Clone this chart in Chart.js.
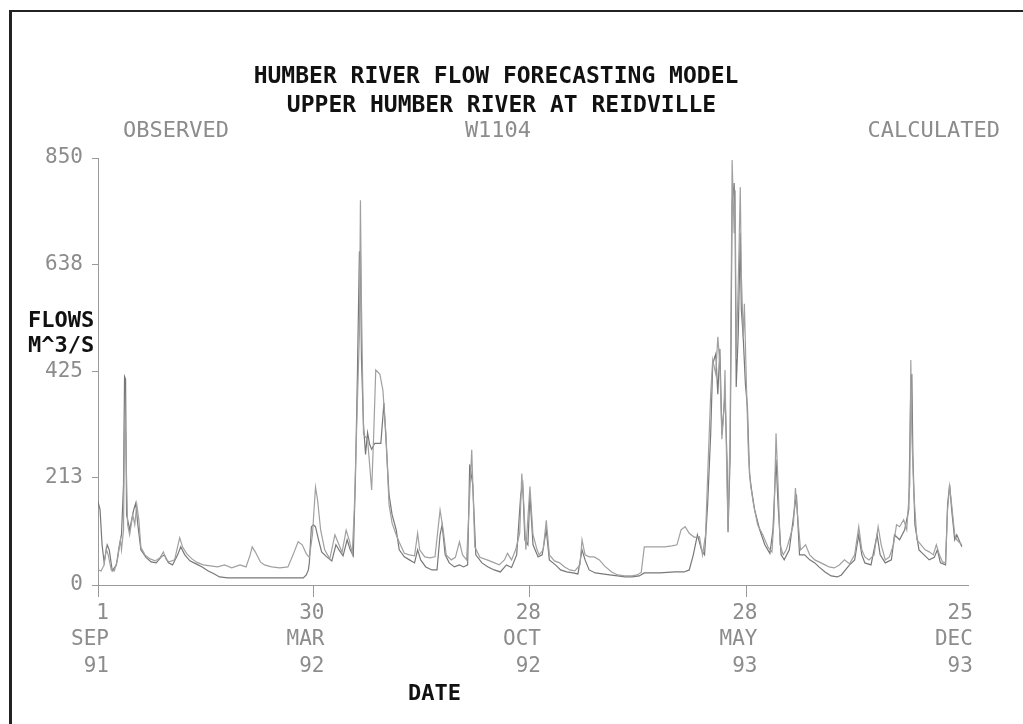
<!DOCTYPE html>
<html>
<head>
<meta charset="utf-8">
<title>Humber River Flow Forecasting Model</title>
<script src="https://cdn.jsdelivr.net/npm/chart.js@4.4.1/dist/chart.umd.min.js"></script>
<style>
    html, body { margin: 0; padding: 0; background: #fff; }
    #wrap { position: relative; width: 1023px; height: 724px; overflow: hidden; }
    #frame { position: absolute; left: 9px; top: 10px; right: -10px; bottom: -10px;
             border-left: 3px solid #222; border-top: 2px solid #222; }
    canvas { position: absolute; left: 0; top: 0; }
    .t { position: absolute; font-family: "DejaVu Sans Mono", monospace; white-space: pre; line-height: 22px; }
    .bold { font-weight: bold; font-size: 22px; color: #111; }
    .title { font-size: 23px; }
    .grey { font-size: 22px; color: #8c8c8c; }
</style>
</head>
<body>
<div id="wrap">
    <div id="frame"></div>
    <canvas id="flowChart" width="1023" height="724"></canvas>
    <div class="t bold title" style="left:0; width:992px; text-align:center; top:64px;">HUMBER RIVER FLOW FORECASTING MODEL</div>
    <div class="t bold title" style="left:0; width:1003px; text-align:center; top:93px;">UPPER HUMBER RIVER AT REIDVILLE</div>
    <div class="t grey" style="left:123px; top:119px;">OBSERVED</div>
    <div class="t grey" style="left:0; width:996px; text-align:center; top:119px;">W1104</div>
    <div class="t grey" style="right:23px; top:119px;">CALCULATED</div>
    <div class="t bold" style="left:28px; top:309px;">FLOWS</div>
    <div class="t bold" style="left:28px; top:334px;">M^3/S</div>
    <div class="t bold" style="left:408px; top:682px;">DATE</div>
</div>
<script>
'use strict';

// x = days since 1 SEP 91
const xTickDays = [0, 211, 423, 635, 846];
const xTickLabels = [
    ['1', 'SEP', '91'],
    ['30', 'MAR', '92'],
    ['28', 'OCT', '92'],
    ['28', 'MAY', '93'],
    ['25', 'DEC', '93']
];
const yTickValues = [0, 213, 425, 638, 850];

// observed flows (m^3/s)
const obsDays = [
    0, 3, 6, 8, 10, 13, 16, 19, 22, 23,
    25, 26, 27, 29, 31, 34, 36, 38, 40, 42,
    46, 51, 56, 61, 64, 67, 70, 75, 80, 83,
    87, 92, 97, 103, 110, 117, 124, 131, 139, 145,
    149, 151, 154, 159, 163, 170, 178, 186, 191, 196,
    200, 204, 207, 210, 213, 215, 218, 222, 227, 232,
    235, 239, 243, 246, 249, 251, 254, 256, 257, 258,
    260, 262, 264, 266, 268, 270, 272, 276, 279, 282,
    285, 288, 292, 295, 300, 305, 310, 313, 315, 320,
    325, 330, 335, 338, 341, 346, 350, 354, 357, 361,
    364, 366, 369, 374, 381, 386, 393, 398, 401, 405,
    409, 413, 415, 417, 419, 423, 426, 430, 432, 436,
    439, 442, 447, 452, 457, 462, 467, 472, 474, 477,
    481, 486, 491, 496, 503, 509, 516, 523, 528, 532,
    535, 545, 555, 562, 567, 571, 575, 579, 584, 589,
    592, 595, 597, 600, 602, 605, 607, 609, 611, 613,
    614, 616, 617, 619, 620, 621, 623, 624, 625, 627,
    629, 630, 632, 633, 635, 637, 639, 642, 646, 651,
    656, 660, 662, 664, 666, 668, 671, 674, 677, 681,
    683, 685, 688, 693, 697, 702, 706, 712, 716, 721,
    726, 731, 736, 741, 745, 748, 751, 755, 760, 764,
    767, 771, 775, 779, 782, 785, 789, 792, 795, 796,
    797, 799, 802, 806, 810, 814, 818, 821, 824, 827,
    830, 832, 834, 836, 839, 841, 846
];
const obsFlows = [
    30, 28, 40, 72, 60, 30, 28, 50, 90, 70,
    110, 330, 300, 120, 100, 140, 120, 160, 130, 75,
    60, 52, 48, 55, 66, 50, 46, 50, 94, 75,
    62, 52, 45, 40, 38, 36, 40, 34, 40, 36,
    60, 76, 66, 46, 40, 36, 34, 36, 60, 86,
    80, 62, 55, 100, 195, 170, 110, 70, 52, 100,
    85, 65, 109, 90, 63, 150, 362, 500, 766, 560,
    300, 295, 290, 240, 189, 300, 428, 420, 388, 300,
    160, 123, 100, 85, 63, 60, 58, 103, 70, 56,
    54, 56, 149, 110, 60, 50, 55, 86, 60, 50,
    180, 269, 76, 55, 50, 46, 40, 50, 63, 50,
    70, 103, 222, 160, 70, 196, 100, 70, 60, 70,
    129, 60, 48, 44, 36, 30, 28, 40, 90, 60,
    56, 56, 50, 38, 26, 20, 18, 18, 20, 25,
    76, 76, 76, 78, 80, 110, 116, 103, 95, 96,
    60, 100, 215, 380, 448, 420, 494, 440, 290, 350,
    428, 200, 110, 300, 553, 846, 700, 786, 450, 600,
    792, 620, 490, 560, 400, 260, 200, 160, 120, 100,
    76, 66, 130, 302, 200, 80, 60, 70, 90, 120,
    193, 140, 70, 80, 60, 50, 46, 40, 36, 34,
    40, 50, 42, 60, 116, 70, 56, 50, 60, 116,
    80, 50, 56, 80, 120, 116, 130, 110, 200, 448,
    300, 180, 90, 80, 70, 66, 60, 80, 60, 46,
    44, 150, 196, 160, 100, 90, 80
];

// calculated flows (m^3/s)
const calcDays = [
    0, 2, 4, 6, 9, 11, 14, 18, 21, 23,
    25, 26, 27, 28, 31, 35, 37, 39, 42, 47,
    52, 57, 62, 65, 69, 73, 78, 81, 85, 90,
    96, 102, 108, 114, 119, 127, 139, 159, 178, 193,
    201, 204, 206, 207, 209, 211, 213, 216, 219, 224,
    229, 233, 236, 240, 244, 247, 250, 252, 254, 256,
    257, 258, 260, 262, 264, 266, 268, 271, 274, 277,
    280, 282, 285, 288, 292, 295, 300, 305, 310, 313,
    316, 321, 327, 332, 335, 337, 340, 344, 349, 354,
    358, 362, 364, 367, 370, 376, 382, 388, 394, 400,
    405, 410, 414, 416, 418, 421, 423, 426, 431, 435,
    439, 442, 448, 453, 459, 465, 470, 474, 477, 481,
    487, 494, 501, 509, 516, 523, 530, 535, 550, 565,
    574, 579, 583, 587, 591, 594, 597, 600, 602, 605,
    607, 609, 611, 614, 616, 617, 619, 620, 621, 623,
    624, 625, 627, 629, 630, 632, 634, 636, 638, 640,
    643, 648, 653, 658, 661, 664, 666, 669, 672, 677,
    682, 684, 687, 692, 697, 702, 706, 712, 718, 724,
    728, 732, 736, 741, 745, 748, 751, 757, 763, 766,
    771, 777, 780, 785, 790, 794, 796, 797, 798, 800,
    804, 809, 814, 819, 822, 825, 830, 832, 834, 836,
    839, 841, 846
];
const calcFlows = [
    166, 150, 80, 45, 80, 70, 28, 40, 80, 100,
    200, 415, 410, 140, 110, 150, 163, 120, 70, 55,
    46, 44, 56, 60, 44, 40, 60, 76, 60, 48,
    42, 36, 28, 22, 16, 14, 14, 14, 14, 14,
    14, 20, 30, 45, 116, 120, 116, 90, 66, 56,
    48, 80, 70, 58, 90, 70, 58, 203, 414, 663,
    663, 450, 320, 260, 303, 280, 270, 282, 282, 282,
    362, 290, 180, 140, 110, 70, 56, 50, 44, 70,
    50, 36, 30, 30, 100, 120, 60, 44, 36, 40,
    36, 40, 240, 200, 60, 44, 36, 30, 26, 40,
    35, 60, 180, 200, 90, 80, 180, 80, 56, 60,
    110, 50, 40, 30, 26, 24, 22, 70, 50, 30,
    24, 22, 20, 18, 16, 16, 18, 24, 24, 26,
    26, 30, 60, 100, 70, 60, 160, 300, 440, 460,
    380, 470, 300, 380, 250, 105, 250, 500, 760, 800,
    700, 394, 500, 700, 550, 488, 400, 354, 222, 190,
    150, 110, 80, 63, 110, 250, 160, 60, 50, 70,
    150, 180, 60, 60, 50, 44, 36, 26, 18, 16,
    20, 30, 40, 50, 100, 60, 44, 40, 100, 60,
    44, 50, 100, 90, 110, 150, 400, 420, 260, 120,
    70, 60, 50, 55, 70, 44, 40, 160, 200, 150,
    90, 100, 76
];

const AXIS_GREY = '#9a9a9a';
const TEXT_GREY = '#8c8c8c';
const TICK_FONT = { family: 'DejaVu Sans Mono', size: 21, lineHeight: 1.26 };

function toPoints(days, flows) {
    return days.map(function(d, i) { return { x: d, y: flows[i] }; });
}

function drawChart() {
    const ctx = document.getElementById('flowChart').getContext('2d');
    new Chart(ctx, {
        type: 'line',
        data: {
            datasets: [
                {
                    label: 'OBSERVED',
                    data: toPoints(obsDays, obsFlows),
                    borderColor: '#a0a0a0', borderWidth: 1.2,
                    pointRadius: 0, tension: 0, fill: false
                },
                {
                    label: 'CALCULATED',
                    data: toPoints(calcDays, calcFlows),
                    borderColor: '#787878', borderWidth: 1.2,
                    pointRadius: 0, tension: 0, fill: false
                }
            ]
        },
        options: {
            responsive: false, animation: false,
            layout: { padding: { left: 0, right: 55, top: 158, bottom: 0 } },
            plugins: { legend: { display: false }, tooltip: { enabled: false }, title: { display: false } },
            scales: {
                x: {
                    type: 'linear', min: 0, max: 852,
                    afterBuildTicks: function(s) { s.ticks = xTickDays.map(v => ({ value: v })); },
                    afterFit: function(s) { s.height = 139; },
                    grid: {
                        drawOnChartArea: false, tickLength: 12, lineWidth: 1,
                        color: c => (c.index === xTickDays.length - 1 ? 'rgba(0,0,0,0)' : AXIS_GREY)
                    },
                    border: { color: AXIS_GREY, width: 1 },
                    ticks: {
                        autoSkip: false, maxRotation: 0, align: 'end', labelOffset: 11, padding: 3,
                        color: TEXT_GREY, font: TICK_FONT,
                        callback: (v, i) => xTickLabels[i]
                    }
                },
                y: {
                    min: 0, max: 850,
                    afterBuildTicks: function(s) { s.ticks = yTickValues.map(v => ({ value: v })); },
                    afterFit: function(s) { s.width = 98; },
                    grid: { drawOnChartArea: false, tickLength: 6, color: AXIS_GREY },
                    border: { color: AXIS_GREY, width: 1 },
                    ticks: { padding: 9, color: TEXT_GREY, font: TICK_FONT, callback: v => String(v) }
                }
            }
        }
    });
}

drawChart();
</script>
</body>
</html>
